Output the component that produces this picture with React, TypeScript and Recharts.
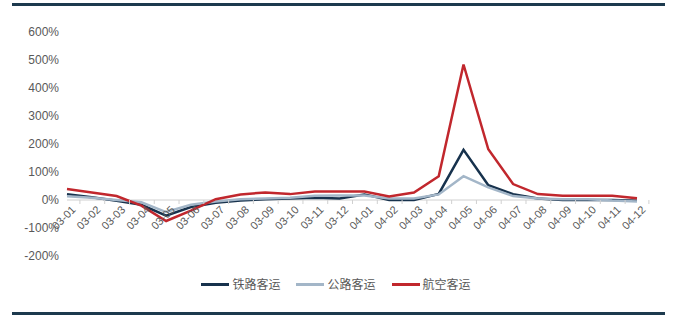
import React from 'react';
import { LineChart, Line, XAxis, YAxis, ReferenceLine } from 'recharts';

const categories = [
  '03-01', '03-02', '03-03', '03-04', '03-05', '03-06', '03-07', '03-08', '03-09', '03-10', '03-11', '03-12',
  '04-01', '04-02', '04-03', '04-04', '04-05', '04-06', '04-07', '04-08', '04-09', '04-10', '04-11', '04-12',
];
const railValues = [21, 10, -3, -17, -56, -25, -10, -2, 3, 5, 8, 5, 20, 0, 0, 22, 179, 53, 21, 5, 0, 0, 0, -3];
const roadValues = [13, 8, 0, -8, -43, -17, -5, 3, 5, 8, 15, 16, 16, 5, 5, 20, 85, 45, 14, 5, 3, 3, -2, -5];
const airValues = [39, 27, 14, -20, -75, -38, 3, 20, 27, 21, 30, 30, 30, 13, 27, 85, 484, 181, 57, 21, 15, 15, 15, 6];
const yTicks = [-200, -100, 0, 100, 200, 300, 400, 500, 600];

const SERIES = [
  { key: 'rail', name: '铁路客运', color: '#17324d' },
  { key: 'road', name: '公路客运', color: '#a3b6c8' },
  { key: 'air', name: '航空客运', color: '#c1272d' },
];

const data = categories.map((c, i) => ({
  date: c,
  rail: railValues[i],
  road: roadValues[i],
  air: airValues[i],
}));

const W = 686;
const H = 321;
const PLOT_LEFT = 67;
const PLOT_RIGHT = 637;
const PLOT_TOP = 32;
const PLOT_BOTTOM = 256;
const ZERO_Y = PLOT_TOP + ((PLOT_BOTTOM - PLOT_TOP) * 600) / 800;
const BAND = (PLOT_RIGHT - PLOT_LEFT) / categories.length;
const FONT = '"Liberation Sans", Arial, sans-serif';

const DateTick = (props: any) => {
  const { x, payload, index } = props;
  const isLast = index === categories.length - 1;
  return (
    <g>
      <line x1={x - BAND / 2} x2={x - BAND / 2} y1={ZERO_Y} y2={ZERO_Y + 4} stroke="#d0d0d0" />
      {isLast && <line x1={x + BAND / 2} x2={x + BAND / 2} y1={ZERO_Y} y2={ZERO_Y + 4} stroke="#d0d0d0" />}
      <g transform={`translate(${x + 4},${ZERO_Y + 5})`}>
        <text x={0} y={0} dy="0.7em" textAnchor="end" transform="rotate(-45)" fontSize={11} fill="#595959" fontFamily={FONT}>
          {payload.value}
        </text>
      </g>
    </g>
  );
};

const App: React.FC = () => {
  return (
    <div style={{ position: 'absolute', left: 0, top: 0, width: W, height: H, background: '#fff', fontFamily: FONT }}>
      <div style={{ position: 'absolute', left: 12, top: 3, width: 653, height: 3, background: '#1d3a4e' }} />
      <LineChart
        width={W}
        height={H}
        data={data}
        margin={{ top: PLOT_TOP, right: W - PLOT_RIGHT, bottom: 35, left: 7 }}
      >
        <XAxis
          dataKey="date"
          axisLine={false}
          tickLine={false}
          height={H - PLOT_BOTTOM - 35}
          interval={0}
          tick={<DateTick />}
        />
        <YAxis
          width={PLOT_LEFT - 7}
          domain={[-200, 600]}
          ticks={yTicks}
          axisLine={false}
          tickLine={false}
          tickFormatter={(v) => `${v}%`}
          tick={{ fill: '#595959', fontSize: 12, fontFamily: FONT }}
        />
        <ReferenceLine y={0} stroke="#d0d0d0" strokeWidth={1} />
        {SERIES.map((s) => (
          <Line
            key={s.key}
            type="linear"
            dataKey={s.key}
            name={s.name}
            stroke={s.color}
            strokeWidth={2.5}
            dot={false}
            isAnimationActive={false}
          />
        ))}
      </LineChart>

      {/* legend */}
      <div style={{ position: 'absolute', top: 276, left: 0, width: W, display: 'flex', justifyContent: 'center', paddingRight: 14, boxSizing: 'border-box' }}>
        {SERIES.map((s) => (
          <div key={s.key} style={{ display: 'flex', alignItems: 'center', margin: '0 8px' }}>
            <span style={{ display: 'inline-block', width: 28, height: 3, background: s.color, marginRight: 3 }} />
            <span style={{ fontSize: 12, color: '#595959', fontFamily: '"Noto Sans CJK SC", sans-serif', lineHeight: '16px' }}>{s.name}</span>
          </div>
        ))}
      </div>

      <div style={{ position: 'absolute', left: 12, top: 312, width: 653, height: 3, background: '#1d3a4e' }} />
    </div>
  );
};

export default App;
